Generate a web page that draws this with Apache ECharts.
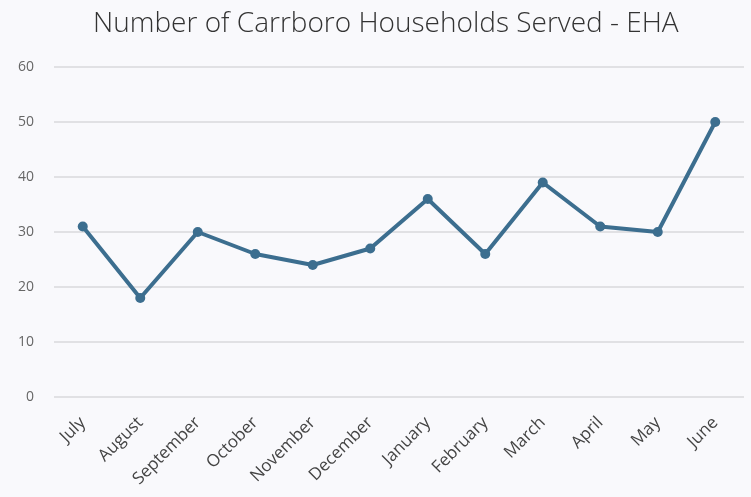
<!DOCTYPE html>
<html>
<head>
<meta charset="utf-8">
<script src="https://cdn.jsdelivr.net/npm/echarts@6/dist/echarts.min.js"></script>
<style>
html, body { margin: 0; padding: 0; background: #f9f9fc; }
#chart { width: 751px; height: 497px; }
</style>
</head>
<body>
<div id="chart"></div>
<script>
// households served per month
var months = ['July', 'August', 'September', 'October', 'November', 'December',
    'January', 'February', 'March', 'April', 'May', 'June'];
var households = [31, 18, 30, 26, 24, 27, 36, 26, 39, 31, 30, 50];

var chart = echarts.init(document.getElementById('chart'));
var option = {
    backgroundColor: '#f9f9fc',
    title: {
        text: 'Number of Carrboro Households Served - EHA',
        left: 88,
        top: 5,
        textStyle: {
            fontFamily: 'Open Sans',
            fontWeight: 300,
            fontSize: 28,
            color: '#333'
        }
    },
    grid: {
        left: 54,
        width: 690,
        top: 67,
        height: 330
    },
    xAxis: {
        type: 'category',
        data: months,
        axisLine: { show: false },
        axisTick: { show: false },
        axisLabel: {
            rotate: 45,
            margin: 23,
            fontFamily: 'Open Sans',
            fontSize: 17,
            color: '#444'
        }
    },
    yAxis: {
        type: 'value',
        min: 0,
        max: 60,
        interval: 10,
        axisLabel: {
            margin: 20,
            fontFamily: 'Open Sans',
            fontSize: 14,
            color: '#666'
        },
        splitLine: { lineStyle: { color: '#d9d9dc', width: 1.5 } }
    },
    series: [
        {
            name: 'Households',
            type: 'line',
            data: households,
            symbol: 'circle',
            symbolSize: 10,
            lineStyle: { color: '#3c6e8f', width: 4 },
            itemStyle: { color: '#3c6e8f' }
        }
    ]
};
chart.setOption(option);
</script>
</body>
</html>
